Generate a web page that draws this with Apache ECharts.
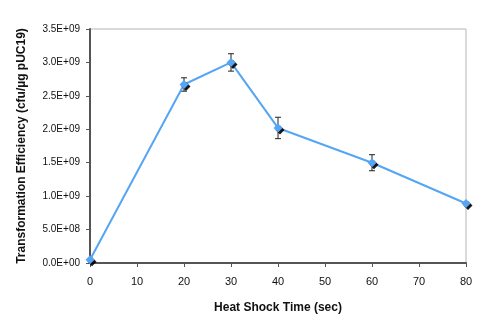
<!DOCTYPE html>
<html><head><meta charset="utf-8">
<script src="https://cdn.jsdelivr.net/npm/echarts@6/dist/echarts.min.js"></script>
<style>html,body{margin:0;padding:0;background:#fff}#c{width:500px;height:327px}</style>
</head><body><div id="c"></div>
<script>
const times = [0, 20, 30, 40, 60, 80];
const efficiency = [5.0e7, 2.67e9, 3.0e9, 2.02e9, 1.50e9, 0.89e9];
const errors = [0, 0.1e9, 0.13e9, 0.16e9, 0.12e9, 0];
const xTitle = 'Heat Shock Time (sec)';
const yTitle = 'Transformation Efficiency (cfu/µg pUC19)';

function fmtE(v){
  const s = Number(v).toExponential(1);
  const m = s.match(/^(-?[\d.]+)e([+-])(\d+)$/);
  const ex = m[3].length < 2 ? '0' + m[3] : m[3];
  return m[1] + 'E' + m[2] + ex;
}

const chart = echarts.init(document.getElementById('c'), null, {renderer:'canvas'});
const font = 'Liberation Sans, Arial, sans-serif';
chart.setOption({
  animation:false,
  grid:{left:90, right:34, top:29, bottom:64, show:true, borderColor:'#b5b5b5', borderWidth:1},
  xAxis:{type:'value', min:0, max:80, interval:10,
    name:xTitle, nameLocation:'middle', nameGap:39,
    nameTextStyle:{fontFamily:font, fontSize:12, fontWeight:'bold', color:'#111'},
    axisLine:{show:true, lineStyle:{color:'#555', width:2}},
    axisTick:{show:true, length:4, lineStyle:{color:'#555'}},
    axisLabel:{fontFamily:font, fontSize:11, color:'#111', margin:13},
    splitLine:{show:false}},
  yAxis:{type:'value', min:0, max:3.5e9, interval:0.5e9,
    name:yTitle, nameLocation:'middle', nameGap:62,
    nameTextStyle:{fontFamily:font, fontSize:12, fontWeight:'bold', color:'#111'},
    axisLine:{show:true, lineStyle:{color:'#555', width:2}},
    axisTick:{show:true, length:4, lineStyle:{color:'#555'}},
    axisLabel:{fontFamily:font, fontSize:10, color:'#111', margin:10, formatter:fmtE},
    splitLine:{show:false}},
  series:[
    {type:'custom', z:2,
     data:times.map((t,i)=>[t,efficiency[i],errors[i]]),
     renderItem:function(params, api){
       const x = api.value(0), y = api.value(1), e = api.value(2);
       if (!e) return {type:'group', children:[]};
       const hi = api.coord([x, y+e]), lo = api.coord([x, y-e]);
       const w = 3;
       const st = {stroke:'#222', lineWidth:1};
       return {type:'group', children:[
         {type:'line', shape:{x1:hi[0], y1:hi[1], x2:lo[0], y2:lo[1]}, style:st},
         {type:'line', shape:{x1:hi[0]-w, y1:hi[1], x2:hi[0]+w, y2:hi[1]}, style:st},
         {type:'line', shape:{x1:lo[0]-w, y1:lo[1], x2:lo[0]+w, y2:lo[1]}, style:st}
       ]};
     }},
    {type:'line', data:times.map((t,i)=>[t,efficiency[i]]),
     symbol:'diamond', symbolSize:9, z:3,
     lineStyle:{color:'#55a5f5', width:2},
     itemStyle:{color:'#55a5f5', shadowColor:'rgba(0,0,0,0.9)', shadowOffsetX:2, shadowOffsetY:2, shadowBlur:0}}
  ]
});
</script></body></html>
